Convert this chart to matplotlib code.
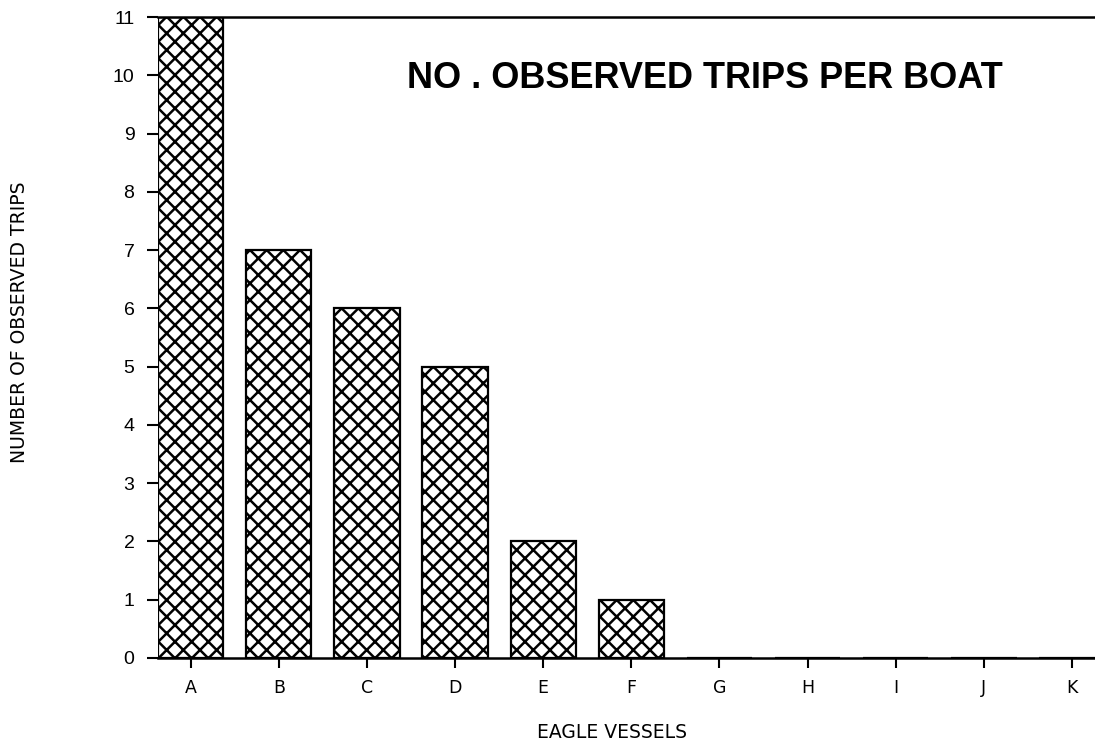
import matplotlib
matplotlib.use("Agg")
import matplotlib.pyplot as plt

# Data
vessels = ["A", "B", "C", "D", "E", "F", "G", "H", "I", "J", "K"]
trips = [11, 7, 6, 5, 2, 1, 0, 0, 0, 0, 0]
y_ticks = list(range(0, 12))

plt.rcParams["hatch.linewidth"] = 1.8

fig = plt.figure(figsize=(10.95, 7.46), dpi=100)
ax = fig.add_axes([0.1443, 0.118, 0.8557, 0.859])

x = list(range(len(vessels)))
ax.bar(x, trips, width=0.74, color="white", edgecolor="black",
       linewidth=1.6, hatch="xx")

ax.set_xlim(-0.37, 10.26)
ax.set_ylim(0, 11)
ax.set_xticks(x)
ax.set_xticklabels(vessels, family="DejaVu Sans", fontsize=12.5)
ax.set_yticks(y_ticks)
ax.set_yticklabels([str(v) for v in y_ticks], family="Liberation Sans",
                   fontsize=14)

ax.tick_params(axis="y", direction="out", length=8, width=1.5, pad=9)
ax.tick_params(axis="x", direction="out", length=7, width=1.5, pad=8)

ax.spines["right"].set_visible(False)
ax.spines["left"].set_visible(False)
ax.spines["top"].set_linewidth(1.8)
ax.spines["bottom"].set_linewidth(1.8)

# title sits inside the plot area
ax.text(0.584, 0.905, "NO . OBSERVED TRIPS PER BOAT", transform=ax.transAxes,
        ha="center", va="center", family="Liberation Sans",
        fontweight="bold", fontsize=26)

fig.text(0.559, 0.018, "EAGLE VESSELS", ha="center", va="center",
         family="DejaVu Sans", fontsize=13.5)
fig.text(0.0175, 0.568, "NUMBER OF OBSERVED TRIPS", ha="center",
         va="center", rotation=90, family="DejaVu Sans", fontsize=13.5)

fig.savefig("out.png", dpi=100)
